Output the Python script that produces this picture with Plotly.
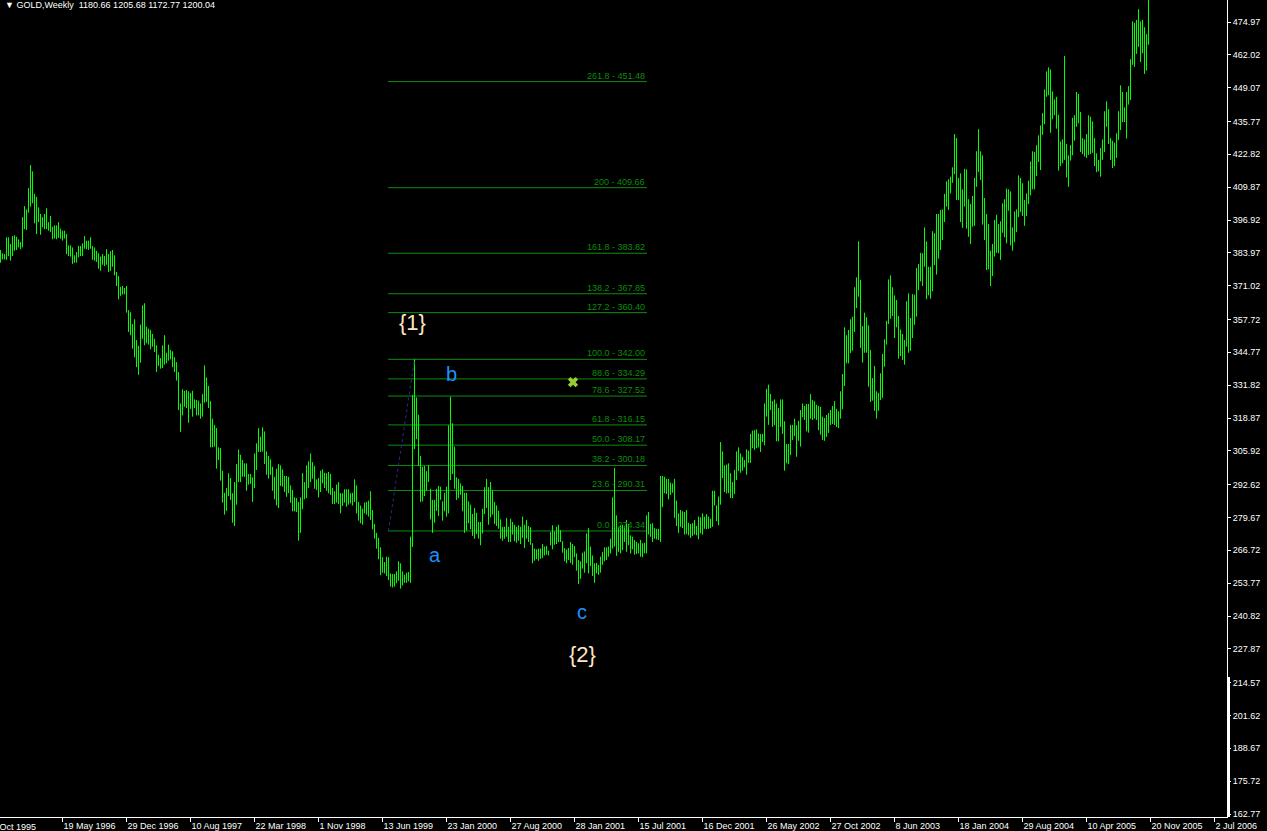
import plotly.graph_objects as go

# ---------------- data (weekly bars) ----------------
first_bar = 1  # index of first visible bar (bar 0 = 8 Oct 1995)

highs = [
    385.1, 383.8, 383.5, 390.1, 390.1, 387.5, 390.6, 390.9, 390.3, 389.3,
    388.2, 398.0, 402.4, 401.1, 409.5, 418.6, 416.1, 407.2, 406.1, 401.9,
    399.3, 398.0, 399.3, 401.6, 396.1, 398.5, 394.3, 394.8, 394.8, 396.1,
    393.5, 392.7, 392.7, 391.4, 386.9, 386.9, 386.1, 383.0, 384.3, 386.7,
    386.7, 387.7, 390.6, 388.8, 388.8, 390.1, 386.7, 386.1, 384.8, 383.8,
    382.5, 383.5, 382.7, 385.4, 383.5, 384.6, 385.1, 383.0, 376.4, 374.8,
    370.6, 370.9, 370.1, 370.9, 361.4, 360.6, 355.9, 357.8, 349.6, 347.3,
    355.7, 363.3, 364.1, 354.9, 354.1, 353.6, 352.0, 350.1, 347.5, 343.8,
    342.5, 347.5, 351.5, 344.6, 347.8, 345.7, 345.2, 342.8, 340.9, 337.0,
    324.6, 330.2, 329.6, 329.9, 329.4, 328.8, 329.6, 326.2, 326.0, 325.7,
    324.6, 328.3, 339.6, 334.9, 331.5, 325.5, 318.6, 316.2, 314.9, 307.3,
    307.0, 298.1, 289.4, 291.3, 297.1, 295.2, 289.2, 293.6, 300.7, 306.5,
    304.4, 302.3, 301.0, 301.0, 296.8, 296.8, 295.5, 304.9, 308.9, 314.9,
    311.5, 315.2, 313.6, 305.7, 303.9, 302.6, 299.7, 295.7, 298.9, 300.7,
    300.2, 298.6, 296.0, 296.0, 295.7, 292.3, 290.5, 287.6, 287.3, 285.8,
    287.6, 297.1, 293.6, 300.2, 301.8, 304.9, 301.5, 299.9, 294.7, 295.2,
    298.1, 298.6, 297.3, 297.1, 297.6, 296.8, 291.3, 290.0, 292.6, 293.6,
    289.2, 289.2, 290.8, 290.8, 290.8, 289.2, 289.4, 294.7, 292.3, 285.8,
    284.4, 283.1, 285.5, 285.8, 286.3, 290.0, 282.6, 277.1, 273.6, 271.6,
    267.9, 264.0, 262.1, 264.2, 264.0, 257.6, 257.4, 257.4, 258.4, 262.4,
    261.6, 258.4, 257.1, 257.9, 258.2, 272.1, 327.9, 342.0, 327.0, 320.2,
    303.9, 299.7, 299.9, 297.9, 300.2, 291.0, 286.6, 286.6, 291.0, 292.1,
    291.8, 286.0, 289.4, 291.8, 316.0, 327.3, 316.8, 307.6, 295.5, 294.9,
    293.1, 292.1, 289.4, 289.4, 286.0, 284.7, 281.0, 283.4, 281.5, 277.9,
    277.9, 283.1, 291.6, 294.9, 291.6, 293.6, 290.5, 285.8, 284.4, 282.3,
    278.9, 276.0, 276.0, 279.5, 276.0, 279.2, 277.9, 276.8, 276.0, 276.6,
    276.0, 280.0, 276.8, 278.7, 276.3, 275.8, 269.5, 267.4, 267.1, 267.4,
    267.4, 269.2, 268.2, 268.4, 266.6, 273.9, 276.6, 274.2, 276.0, 276.8,
    274.7, 270.3, 267.6, 267.1, 267.6, 270.0, 269.2, 268.4, 265.5, 262.9,
    262.4, 265.8, 266.3, 273.4, 275.5, 268.2, 264.7, 261.6, 261.8, 261.0,
    264.2, 266.1, 267.9, 267.9, 268.2, 271.3, 287.6, 299.2, 280.5, 276.0,
    276.6, 276.8, 276.3, 278.7, 277.1, 272.6, 272.1, 270.8, 270.0, 269.5,
    270.8, 269.5, 269.7, 280.5, 281.8, 277.1, 277.4, 275.5, 275.2, 275.2,
    296.0, 296.0, 295.7, 294.9, 294.9, 293.4, 293.1, 294.9, 286.3, 281.3,
    282.6, 282.1, 281.8, 282.6, 277.6, 277.1, 277.4, 278.7, 276.3, 280.0,
    279.7, 281.3, 280.0, 281.0, 280.0, 279.2, 290.2, 290.2, 284.4, 287.9,
    309.4, 305.7, 300.2, 300.5, 301.0, 297.1, 293.6, 298.4, 305.7, 307.3,
    304.9, 303.6, 302.3, 306.5, 306.0, 312.6, 313.9, 314.1, 314.4, 312.8,
    312.6, 312.6, 324.6, 330.4, 332.0, 328.3, 325.5, 326.2, 324.6, 322.8,
    326.2, 326.2, 317.6, 308.6, 308.6, 316.2, 316.2, 318.6, 316.0, 317.8,
    322.0, 324.6, 323.6, 324.4, 324.4, 328.3, 326.0, 325.5, 324.1, 323.6,
    323.3, 319.4, 318.9, 320.1, 320.8, 322.0, 323.6, 325.5, 322.5, 321.5,
    329.4, 336.2, 354.6, 351.5, 353.6, 357.8, 358.8, 370.4, 374.3, 388.5,
    373.3, 355.1, 360.4, 358.6, 355.4, 345.7, 334.6, 339.4, 329.4, 328.8,
    336.5, 344.1, 349.9, 357.2, 373.5, 375.1, 370.4, 367.2, 365.4, 359.1,
    353.8, 352.0, 349.6, 364.9, 368.0, 358.3, 367.7, 367.5, 378.0, 379.6,
    384.0, 383.8, 394.0, 388.5, 378.5, 378.5, 392.5, 391.7, 399.3, 399.3,
    400.9, 401.1, 407.2, 412.2, 413.0, 414.0, 417.7, 430.8, 429.2, 413.5,
    415.3, 409.0, 417.1, 416.9, 405.1, 403.2, 406.4, 413.5, 424.0, 432.7,
    424.0, 422.4, 405.6, 399.3, 395.3, 384.8, 387.5, 396.9, 399.0, 395.3,
    396.4, 403.5, 405.1, 409.3, 409.0, 408.2, 394.0, 400.3, 401.1, 414.5,
    413.5, 411.4, 404.8, 407.4, 412.4, 420.0, 424.0, 423.7, 426.4, 430.3,
    434.2, 439.0, 448.4, 455.5, 457.1, 456.3, 447.6, 444.5, 445.5, 438.4,
    427.9, 428.7, 461.6, 426.9, 422.4, 426.4, 437.2, 438.2, 447.4, 446.6,
    439.5, 429.2, 428.7, 430.8, 438.2, 437.6, 435.8, 429.2, 423.2, 420.6,
    425.3, 428.7, 439.8, 443.7, 440.6, 429.2, 428.2, 427.4, 431.1, 439.8,
    450.0, 447.4, 441.3, 447.4, 449.7, 460.3, 475.2, 474.7, 475.8, 480.0,
    475.2, 475.8, 472.9, 470.2, 488.0,
]

lows = [
    380.1, 381.4, 381.4, 381.2, 382.7, 380.9, 382.7, 384.8, 385.1, 386.1,
    385.4, 386.1, 393.3, 393.0, 399.8, 402.2, 403.5, 395.6, 391.4, 396.1,
    391.1, 394.0, 393.3, 393.3, 392.7, 392.2, 389.3, 389.6, 389.3, 389.8,
    389.6, 388.8, 389.6, 383.5, 382.7, 382.5, 379.6, 380.1, 380.1, 382.2,
    382.7, 382.7, 385.6, 385.4, 385.1, 385.6, 381.2, 380.9, 380.4, 377.7,
    376.9, 379.3, 378.8, 379.3, 376.4, 376.9, 378.5, 375.1, 370.9, 365.6,
    367.0, 367.5, 367.7, 360.4, 352.8, 351.5, 346.2, 342.8, 338.9, 335.9,
    340.7, 350.1, 347.5, 348.3, 347.8, 346.0, 347.0, 344.9, 337.0, 339.4,
    338.3, 338.6, 339.9, 340.4, 341.5, 342.0, 338.9, 337.0, 333.6, 322.0,
    313.4, 319.9, 323.3, 322.8, 317.0, 322.5, 319.4, 322.8, 319.9, 319.9,
    318.6, 319.4, 324.9, 325.2, 322.8, 307.3, 307.3, 307.6, 298.9, 302.3,
    294.2, 285.5, 280.8, 282.3, 288.1, 286.6, 277.6, 276.3, 284.7, 293.6,
    293.6, 295.7, 295.7, 290.2, 292.6, 292.9, 285.8, 291.3, 298.4, 305.5,
    305.5, 305.7, 300.7, 296.5, 295.0, 296.5, 290.2, 286.8, 284.4, 283.4,
    292.1, 291.8, 289.7, 287.8, 289.2, 285.5, 282.1, 282.1, 281.8, 270.5,
    273.6, 282.9, 286.8, 287.3, 291.3, 293.6, 295.0, 291.0, 290.5, 287.6,
    289.7, 293.1, 291.3, 290.2, 289.2, 288.6, 285.0, 285.0, 285.5, 285.0,
    281.3, 284.2, 285.5, 283.9, 284.7, 285.2, 284.4, 285.8, 281.3, 278.4,
    277.4, 276.8, 281.3, 280.8, 280.0, 278.7, 275.0, 271.3, 267.4, 263.2,
    256.9, 257.9, 257.6, 256.6, 255.0, 252.4, 252.1, 252.4, 253.7, 254.7,
    251.6, 252.9, 253.9, 253.9, 254.5, 253.9, 268.0, 306.6, 310.5, 299.9,
    285.8, 286.0, 288.1, 290.2, 293.6, 278.9, 273.6, 277.6, 282.3, 280.2,
    286.6, 278.4, 282.1, 280.0, 281.3, 294.4, 296.8, 291.0, 286.6, 287.3,
    288.6, 282.1, 273.6, 274.4, 277.4, 275.0, 272.4, 271.3, 273.1, 271.3,
    268.7, 273.4, 281.0, 283.4, 276.8, 279.7, 280.8, 277.1, 276.3, 275.2,
    271.3, 270.5, 271.3, 272.1, 270.0, 270.0, 272.9, 270.3, 269.7, 270.5,
    269.2, 271.6, 267.6, 271.3, 270.0, 268.9, 261.6, 262.6, 263.2, 262.6,
    263.4, 263.7, 264.7, 265.0, 264.7, 268.7, 267.1, 268.9, 269.2, 270.0,
    270.0, 265.8, 262.4, 261.6, 262.9, 261.8, 261.0, 264.0, 258.7, 253.4,
    255.5, 259.5, 257.9, 261.6, 257.6, 260.5, 256.6, 253.9, 257.6, 257.1,
    257.9, 261.0, 262.4, 262.9, 264.2, 265.5, 267.4, 268.2, 264.5, 266.1,
    265.5, 266.8, 270.0, 266.1, 268.7, 265.5, 267.1, 265.0, 265.3, 265.5,
    264.2, 264.0, 265.5, 265.5, 272.9, 272.1, 270.0, 271.3, 271.0, 270.8,
    270.0, 283.7, 289.2, 288.9, 286.8, 288.6, 289.4, 279.5, 276.3, 273.6,
    276.0, 275.5, 272.9, 273.1, 272.6, 271.6, 272.4, 272.9, 272.6, 271.0,
    273.4, 272.9, 275.2, 275.0, 275.2, 275.5, 276.0, 284.4, 278.2, 276.6,
    284.7, 295.2, 289.7, 289.2, 289.2, 287.3, 287.3, 288.9, 294.4, 297.9,
    297.3, 298.1, 299.4, 296.5, 301.2, 301.2, 307.0, 306.3, 307.0, 307.3,
    305.5, 309.4, 308.1, 319.4, 316.2, 322.0, 315.4, 316.0, 309.7, 309.7,
    315.4, 312.6, 298.1, 301.0, 300.7, 304.2, 310.2, 311.8, 303.6, 309.9,
    307.6, 319.1, 318.1, 313.6, 313.1, 318.6, 318.1, 318.6, 318.1, 314.1,
    312.3, 310.2, 309.9, 311.4, 313.0, 316.1, 316.5, 316.1, 315.3, 314.9,
    318.6, 322.3, 331.5, 340.4, 340.4, 344.4, 345.4, 352.8, 362.2, 366.7,
    346.5, 340.7, 344.6, 344.6, 331.2, 325.2, 325.7, 321.7, 318.6, 321.7,
    326.0, 326.8, 339.1, 347.8, 355.9, 358.0, 359.1, 350.4, 354.6, 342.3,
    343.3, 341.7, 339.9, 347.0, 344.6, 345.4, 350.4, 355.6, 358.8, 369.3,
    372.7, 370.9, 378.5, 365.7, 367.2, 365.9, 368.8, 379.1, 375.4, 381.7,
    385.1, 389.0, 396.1, 402.2, 400.9, 407.4, 411.6, 415.0, 404.8, 404.8,
    396.1, 393.8, 402.2, 393.5, 390.3, 387.5, 394.3, 394.6, 410.0, 415.8,
    412.7, 395.1, 389.0, 377.2, 377.5, 370.9, 374.8, 382.5, 384.0, 383.8,
    381.2, 391.9, 390.1, 387.7, 400.6, 386.9, 384.8, 388.2, 392.2, 398.0,
    400.1, 398.5, 394.6, 398.5, 403.2, 406.6, 409.0, 409.0, 414.3, 419.8,
    416.6, 430.5, 434.7, 445.5, 446.1, 431.3, 436.6, 438.2, 432.9, 416.4,
    418.2, 419.3, 420.6, 413.7, 410.0, 420.3, 422.4, 428.2, 433.7, 435.0,
    423.7, 422.9, 421.9, 421.4, 422.6, 422.9, 423.4, 418.2, 415.8, 416.1,
    414.0, 420.6, 423.7, 433.7, 426.9, 420.6, 417.4, 418.2, 421.4, 428.4,
    432.4, 435.5, 435.5, 429.0, 442.4, 444.2, 458.1, 457.3, 462.4, 465.2,
    459.2, 462.6, 454.5, 455.8, 466.0,
]

x_tick_bars = [32, 64, 96, 128, 160, 192, 224, 256, 288, 320,
               352, 384, 416, 448, 480, 512, 544, 576, 608]
x_tick_labels = ["19 May 1996", "29 Dec 1996", "10 Aug 1997", "22 Mar 1998",
                 "1 Nov 1998", "13 Jun 1999", "23 Jan 2000", "27 Aug 2000",
                 "28 Jan 2001", "15 Jul 2001", "16 Dec 2001", "26 May 2002",
                 "27 Oct 2002", "8 Jun 2003", "18 Jan 2004", "29 Aug 2004",
                 "10 Apr 2005", "20 Nov 2005", "2 Jul 2006"]
first_date_label = "8 Oct 1995"

y_ticks = [474.97, 462.02, 449.07, 435.77, 422.82, 409.87, 396.92, 383.97,
           371.02, 357.72, 344.77, 331.82, 318.87, 305.92, 292.62, 279.67,
           266.72, 253.77, 240.82, 227.87, 214.57, 201.62, 188.67, 175.72,
           162.77]

fib_pct = ["0.0", "23.6", "38.2", "50.0", "61.8", "78.6", "88.6", "100.0",
           "127.2", "138.2", "161.8", "200", "261.8"]
fib_price = [274.34, 290.31, 300.18, 308.17, 316.15, 327.52, 334.29, 342.00,
             360.40, 367.85, 383.82, 409.66, 451.48]
fib_start_bar, fib_end_bar = 195, 324
fib_anchor_bars = [195, 208]

title_text = "\u25BC GOLD,Weekly  1180.66 1205.68 1172.77 1200.04"

# ---------------- figure ----------------
FONT = "Liberation Sans, Arial, sans-serif"
FIB_COLOR = "#0C8C0C"
W, H = 1267, 831
ML, MR, MT, MB = 0, 40, 0, 14
PW = W - ML - MR   # 1227
PH = H - MT - MB   # 817

xs, ys = [], []
for k, (hi, lo) in enumerate(zip(highs, lows)):
    i = first_bar + k
    xs += [i, i, None]
    ys += [lo, hi, None]

fig = go.Figure()
fig.add_trace(go.Scatter(x=xs, y=ys, mode="lines",
                         line=dict(color="#00FF00", width=1),
                         hoverinfo="skip", showlegend=False))

# Fibonacci retracement lines
for pct, price in zip(fib_pct, fib_price):
    fig.add_shape(type="line", xref="x", yref="y",
                  x0=fib_start_bar - 0.25, x1=fib_end_bar + 0.25,
                  y0=price, y1=price,
                  line=dict(color=FIB_COLOR, width=1), layer="below")
    fig.add_annotation(x=fib_end_bar, y=price, xref="x", yref="y",
                       text=f"{pct} - {price:.2f}", showarrow=False,
                       xanchor="right", yanchor="bottom", yshift=-1,
                       font=dict(family=FONT, size=9, color=FIB_COLOR))

# dotted trend line of the fib
fig.add_trace(go.Scatter(x=fib_anchor_bars, y=[fib_price[0], fib_price[7]],
                         mode="lines", line=dict(color="#2A2A8A", width=1, dash="dot"),
                         hoverinfo="skip", showlegend=False))

# wave labels
for txt, xb, yp, col, sz in [("{1}", 207, 356.7, "#FFE4C4", 22),
                             ("b", 226.25, 336.2, "#1E90FF", 20),
                             ("a", 218, 264.9, "#1E90FF", 20),
                             ("c", 291.5, 242.6, "#1E90FF", 20),
                             ("{2}", 291.75, 225.5, "#FFE4C4", 22)]:
    fig.add_annotation(x=xb, y=yp, xref="x", yref="y", text=txt, showarrow=False,
                       xanchor="center", yanchor="middle",
                       font=dict(family=FONT, size=sz, color=col))

fig.add_trace(go.Scatter(x=[287.25], y=[333.0], mode="markers",
                         marker=dict(symbol="x", size=9, color="#9ACD32",
                                     line=dict(width=0)),
                         hoverinfo="skip", showlegend=False))

# title
fig.add_annotation(xref="paper", yref="paper", x=3 / PW, y=1, xanchor="left",
                   yanchor="top", yshift=2, text=title_text, showarrow=False,
                   font=dict(family=FONT, size=9, color="white"))

# first (partly hidden) date label
fig.add_annotation(xref="paper", yref="paper", x=-10 / PW, y=0, xanchor="left",
                   yanchor="top", yshift=-3, text=first_date_label, showarrow=False,
                   font=dict(family=FONT, size=9, color="white"))

# white marker strip on the price scale
fig.add_shape(type="rect", xref="paper", yref="paper", x0=1.0, x1=(PW + 3) / PW,
              y0=0, y1=140 / PH, fillcolor="white", line=dict(width=0))

fig.update_layout(
    width=W, height=H,
    margin=dict(l=ML, r=MR, t=MT, b=MB, pad=0),
    paper_bgcolor="black", plot_bgcolor="black",
    showlegend=False,
    xaxis=dict(range=[0.75, 614.25], showgrid=False, zeroline=False,
               showline=True, linecolor="white", linewidth=1,
               ticks="outside", ticklen=4, tickcolor="white", tickwidth=1,
               tickvals=x_tick_bars, ticktext=x_tick_labels,
               ticklabelposition="outside right",
               tickfont=dict(family=FONT, size=9, color="white"),
               fixedrange=True),
    yaxis=dict(range=[161.60, 483.64], side="right", showgrid=False,
               zeroline=False, showline=True, linecolor="white", linewidth=1,
               ticks="outside", ticklen=3, tickcolor="white", tickwidth=1,
               tickvals=y_ticks, ticktext=[f"{v:.2f}" for v in y_ticks],
               tickfont=dict(family=FONT, size=9, color="white"),
               fixedrange=True),
)

fig.write_html("out.html",
               config={"displayModeBar": False},
               post_script="document.body.style.margin='0';"
                           "document.body.style.background='black';"
                           "document.body.style.overflow='hidden';")
